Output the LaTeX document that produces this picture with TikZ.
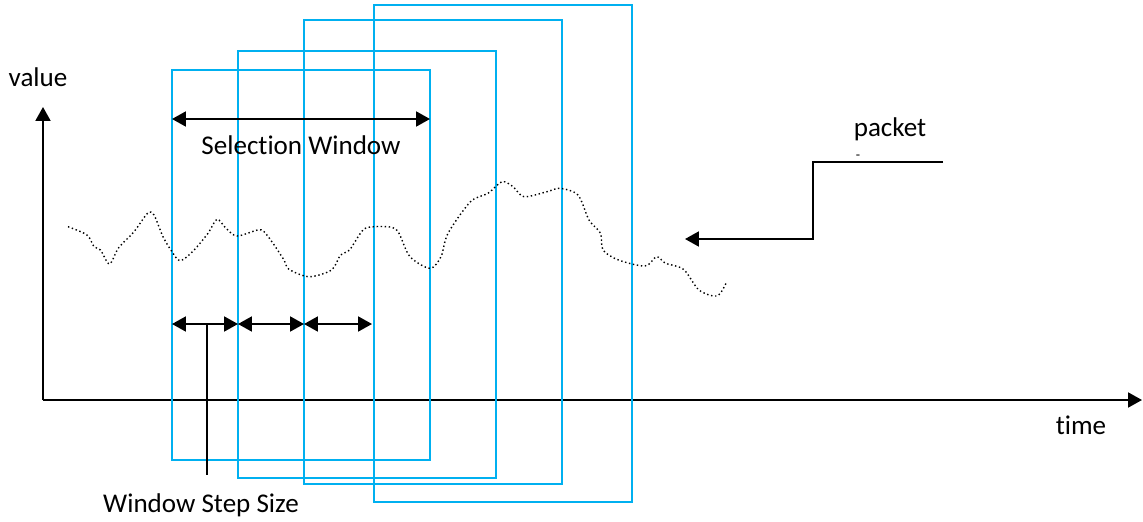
\documentclass[tikz,border=0pt]{standalone}
\usepackage{fontspec}
\setmainfont{Carlito}[Ligatures=NoCommon]
\usetikzlibrary{arrows.meta}

\definecolor{winblue}{RGB}{0,176,240}

\begin{document}
\begin{tikzpicture}
  [x=0.02cm,y=-0.02cm,line width=1.1pt,
   >={Triangle[length=7.9pt,width=8.5pt]},
   every node/.style={font=\fontsize{15.4}{18}\selectfont,anchor=base},
   window/.style={draw=winblue},
   signal/.style={dash pattern=on 0.8pt off 1.5pt,line width=0.8pt}]

  \useasboundingbox (0,0) rectangle (1143,521);

  % axes
  \coordinate (o)    at (43,400);
  \coordinate (ytop) at (43,107);
  \coordinate (xend) at (1142,400);
  \draw[->] (o) -- (ytop);
  \draw[->] (o) -- (xend);
  \node (value) at (38,86)   {value};
  \node (time)  at (1081,434) {time};

  % sliding windows
  \draw[window] (172,70) rectangle (430,460);
  \draw[window] (238,51) rectangle (496,478);
  \draw[window] (304,20) rectangle (562,484);
  \draw[window] (374,5)  rectangle (632,502);

  % measured values
  \draw[signal] plot[smooth,tension=0.5] coordinates {
    (68,226.7) (87,235) (94,246.7) (100.5,250) (109.5,264) (118.5,248)
    (134,231.7) (147.6,213.3) (154,215) (163,236.7) (172,251.7) (180,260.7)
    (192.5,251.7) (208,233.3) (217,219.3) (226,228.3) (237,236) (257.5,230)
    (264,231.7) (273,243.3) (284,260) (289,269.3) (309,276.7) (331.5,270)
    (340.5,255) (349.5,250) (363,230) (374,226.7) (392,227.3) (399,233.3)
    (410,256.7) (430,268.3) (441,256.7) (448,233.3) (470.5,201.7) (488,193.3)
    (502,181.7) (513,186.7) (524,196.7) (547,191.7) (560,188.3) (578,195)
    (589,220) (600.5,233.3) (603,250) (618.5,260) (645,266) (656.6,256.7)
    (665.5,263.3) (683.5,269.3) (699,290) (717,296) (726,283.3)};

  % selection window
  \coordinate (sel-l) at (172,119);
  \coordinate (sel-r) at (430,119);
  \draw[<->] (sel-l) -- (sel-r);
  \node (selwin) at (301,154) {Selection Window};

  % window steps
  \coordinate (s0) at (172,324);
  \coordinate (s1) at (238,324);
  \coordinate (s2) at (304,324);
  \coordinate (s3) at (372,324);
  \foreach \a/\b in {s0/s1,s1/s2,s2/s3}
    \draw[<->] (\a) -- (\b);
  \coordinate (mark)    at (207,324);
  \coordinate (markend) at (207,475);
  \draw (mark) -- (markend);
  \node (stepsize) at (201,512) {Window Step Size};

  % incoming packet
  \coordinate (pk-in)  at (943,162);
  \coordinate (pk-out) at (685,239);
  \draw[->] (pk-in) -| (813,239) -- (pk-out);
  \node (packet) at (890,136) {packet};
  \node[font=\fontsize{8}{8}\selectfont] (pkdash) at (858,159) {-};
\end{tikzpicture}
\end{document}
